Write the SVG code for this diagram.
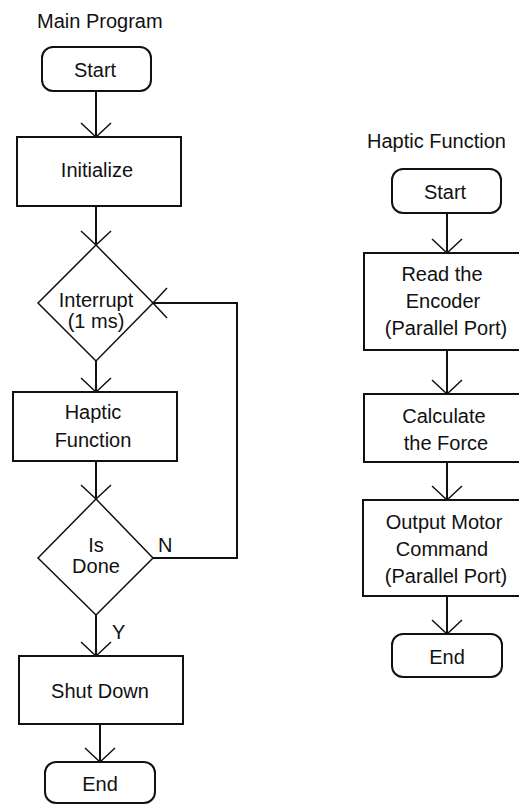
<svg xmlns="http://www.w3.org/2000/svg" width="519" height="804" viewBox="0 0 519 804">
<style>
  text { font-family: "Liberation Sans", Arial, sans-serif; font-size: 20px; fill: #111; }
  .c { text-anchor: middle; }
  .box { fill: #fff; stroke: #111; stroke-width: 2; }
  .dia { fill: #fff; stroke: #111; stroke-width: 1.5; }
  .edge { fill: none; stroke: #111; stroke-width: 2; }
</style>
<defs>
  <marker id="v" markerUnits="userSpaceOnUse" markerWidth="40" markerHeight="40" viewBox="-20 -20 40 40" refX="0" refY="0" orient="auto">
    <path d="M-14,-15 L0,0 L-14,15" fill="none" stroke="#111" stroke-width="1.5"/>
  </marker>
</defs>
<rect width="519" height="804" fill="#fff"/>
<text x="37" y="28">Main Program</text>
<text x="367" y="148">Haptic Function</text>

<g id="edges">
  <line class="edge" x1="96" y1="91" x2="96" y2="137" marker-end="url(#v)"/>
  <line class="edge" x1="96" y1="206" x2="96" y2="245" marker-end="url(#v)"/>
  <line class="edge" x1="96" y1="361" x2="96" y2="392" marker-end="url(#v)"/>
  <line class="edge" x1="96" y1="461" x2="96" y2="499" marker-end="url(#v)"/>
  <polyline class="edge" points="153,558 237,558 237,303 153,303" marker-end="url(#v)"/>
  <line class="edge" x1="96" y1="615" x2="96" y2="656" marker-end="url(#v)"/>
  <line class="edge" x1="100" y1="724" x2="100" y2="762" marker-end="url(#v)"/>
  <text x="158" y="552">N</text>
  <text x="112" y="639">Y</text>
  <line class="edge" x1="447" y1="213" x2="447" y2="253" marker-end="url(#v)"/>
  <line class="edge" x1="447" y1="350" x2="447" y2="394" marker-end="url(#v)"/>
  <line class="edge" x1="447" y1="462" x2="447" y2="500" marker-end="url(#v)"/>
  <line class="edge" x1="447" y1="596" x2="447" y2="634" marker-end="url(#v)"/>
</g>

<g id="main-start">
  <rect class="box" x="42" y="47" width="109" height="44" rx="11"/>
  <text class="c" x="95" y="77">Start</text>
</g>
<g id="main-init">
  <rect class="box" x="17" y="137" width="164" height="69"/>
  <text class="c" x="97" y="177">Initialize</text>
</g>
<g id="main-interrupt">
  <polygon class="dia" points="96,245 153,303 96,361 38,303"/>
  <text class="c" x="96" y="307">Interrupt</text>
  <text class="c" x="96" y="328">(1 ms)</text>
</g>
<g id="main-haptic">
  <rect class="box" x="13" y="392" width="164" height="69"/>
  <text class="c" x="93" y="419">Haptic</text>
  <text class="c" x="93" y="447">Function</text>
</g>
<g id="main-isdone">
  <polygon class="dia" points="96,499 153,558 96,615 38,558"/>
  <text class="c" x="96" y="552">Is</text>
  <text class="c" x="96" y="573">Done</text>
</g>
<g id="main-shutdown">
  <rect class="box" x="19" y="656" width="164" height="68"/>
  <text class="c" x="100" y="698">Shut Down</text>
</g>
<g id="main-end">
  <rect class="box" x="45" y="762" width="110" height="41" rx="11"/>
  <text class="c" x="100" y="791">End</text>
</g>

<g id="hf-start">
  <rect class="box" x="392" y="169" width="109" height="44" rx="11"/>
  <text class="c" x="445" y="199">Start</text>
</g>
<g id="hf-read">
  <rect class="box" x="364" y="253" width="170" height="97"/>
  <text class="c" x="442" y="281">Read the</text>
  <text class="c" x="443" y="308">Encoder</text>
  <text class="c" x="446" y="335">(Parallel Port)</text>
</g>
<g id="hf-calc">
  <rect class="box" x="364" y="394" width="170" height="68"/>
  <text class="c" x="444" y="423">Calculate</text>
  <text class="c" x="446" y="450">the Force</text>
</g>
<g id="hf-output">
  <rect class="box" x="363" y="500" width="170" height="96"/>
  <text class="c" x="444" y="529">Output Motor</text>
  <text class="c" x="442" y="556">Command</text>
  <text class="c" x="446" y="583">(Parallel Port)</text>
</g>
<g id="hf-end">
  <rect class="box" x="392" y="634" width="110" height="43" rx="11"/>
  <text class="c" x="447" y="664">End</text>
</g>
</svg>
